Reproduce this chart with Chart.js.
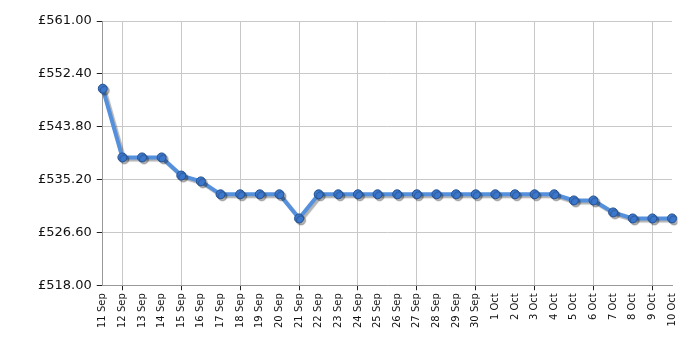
<!DOCTYPE html>
<html>
<head>
<meta charset="utf-8">
<script src="https://cdn.jsdelivr.net/npm/chart.js@4"></script>
<style>
  html, body { margin: 0; padding: 0; background: #fff; }
  #wrap { width: 700px; height: 350px; position: relative; }
</style>
</head>
<body>
<div id="wrap"><canvas id="priceChart"></canvas></div>
<script>
// price history
var dates = ['11 Sep','12 Sep','13 Sep','14 Sep','15 Sep','16 Sep','17 Sep','18 Sep','19 Sep','20 Sep',
    '21 Sep','22 Sep','23 Sep','24 Sep','25 Sep','26 Sep','27 Sep','28 Sep','29 Sep','30 Sep',
    '1 Oct','2 Oct','3 Oct','4 Oct','5 Oct','6 Oct','7 Oct','8 Oct','9 Oct','10 Oct'];
var prices = [549.99, 538.80, 538.80, 538.80, 535.85, 534.90, 532.80, 532.80, 532.80, 532.80,
    528.87, 532.80, 532.80, 532.80, 532.80, 532.80, 532.80, 532.80, 532.80, 532.80,
    532.80, 532.80, 532.80, 532.80, 531.80, 531.80, 529.85, 528.87, 528.87, 528.87];
var yTicks = [518.00, 526.60, 535.20, 543.80, 552.40, 561.00];

var shadow = {
    id: 'shadow',
    beforeDatasetDraw: function(chart) {
        var ctx = chart.ctx;
        ctx.save();
        ctx.shadowColor = 'rgba(0,0,0,0.3)';
        ctx.shadowOffsetX = 2;
        ctx.shadowOffsetY = 2;
        ctx.shadowBlur = 1;
    },
    afterDatasetDraw: function(chart) {
        chart.ctx.restore();
    }
};

function everyThird(ctx, on, off) {
    return ctx.index % 3 === 1 ? on : off;
}

new Chart(document.getElementById('priceChart'), {
    type: 'line',
    data: {
        labels: dates,
        datasets: [{
            data: prices,
            borderColor: '#5590dc',
            borderWidth: 4,
            pointRadius: 4.5,
            pointBackgroundColor: '#3b77cc',
            pointBorderColor: '#24508f',
            pointBorderWidth: 1,
            tension: 0,
            fill: false
        }]
    },
    plugins: [shadow],
    options: {
        responsive: true,
        maintainAspectRatio: false,
        animation: false,
        layout: { padding: { left: 33, right: 28, top: 21, bottom: 19 } },
        plugins: {
            legend: { display: false },
            tooltip: { enabled: false }
        },
        scales: {
            x: {
                offset: false,
                grid: {
                    color: function(c) { return everyThird(c, '#c8c8c8', 'rgba(0,0,0,0)'); },
                    tickColor: function(c) { return everyThird(c, '#222', 'rgba(0,0,0,0)'); },
                    tickLength: 5
                },
                border: { color: '#999' },
                ticks: {
                    autoSkip: false,
                    maxRotation: 90,
                    minRotation: 90,
                    padding: 3,
                    color: '#111',
                    font: { family: 'DejaVu Sans', size: 10 }
                }
            },
            y: {
                min: 518,
                max: 561,
                afterBuildTicks: function(axis) {
                    axis.ticks = yTicks.map(function(v) { return { value: v }; });
                },
                grid: { color: '#c8c8c8', tickColor: '#222', tickLength: 6 },
                border: { color: '#999' },
                ticks: {
                    padding: 5,
                    color: '#111',
                    font: { family: 'DejaVu Sans', size: 13 },
                    callback: function(v) { return '£' + Number(v).toFixed(2); }
                }
            }
        }
    }
});
</script>
</body>
</html>
